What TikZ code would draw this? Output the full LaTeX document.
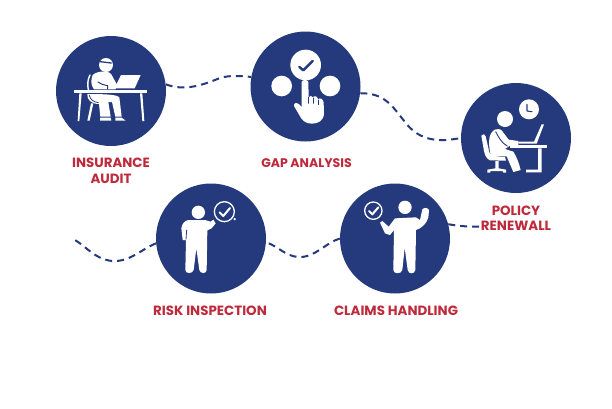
\documentclass[tikz,border=0pt]{standalone}
\usepackage{fontspec}
\setmainfont{Poppins}
\definecolor{navy}{HTML}{243A7C}
\definecolor{crimson}{HTML}{BE2A3C}
\tikzset{
  disc/.style={circle,fill=navy,draw=none,minimum size=110pt,inner sep=0pt},
  lbl/.style={text=crimson,font=\fontsize{13.4pt}{15pt}\selectfont\bfseries,inner sep=0pt,anchor=center},
  lblsmall/.style={lbl,font=\fontsize{12.5pt}{15pt}\selectfont\bfseries},
  wave/.style={draw=navy,line width=2pt,dash pattern=on 7pt off 5pt},
  ico/.style={x=0.33333pt,y=-0.33333pt},
  wf/.style={fill=white,draw=none},
  wl/.style={draw=white,line cap=round,line join=round},
  nl/.style={draw=navy,line cap=round,line join=round},
}
\begin{document}
\begin{tikzpicture}[x=1pt,y=-1pt]
\useasboundingbox (0,0) rectangle (612,408);
\fill[white] (0,0) rectangle (612,408);
\coordinate (freeL) at (75,240);
\coordinate (freeR) at (480,226.5);
% discs
\node[disc] (audit) at (111,91) {};
\node[disc] (gap) at (305.5,86.5) {};
\node[disc] (policy) at (516,138) {};
\node[disc] (risk) at (211,238.5) {};
\node[disc] (claims) at (395,238.5) {};
% connectors
\draw[wave] (audit.7) .. controls (185,92) and (205,84) .. (220,78) .. controls (230,75) and (240,76) .. (gap.170);
\draw[wave] (gap.-7) .. controls (385,93) and (392,106) .. (405,122) .. controls (420,142) and (440,142) .. (policy.west);
\draw[wave] (claims.west) .. controls (325,243) and (315,258) .. (298,257) .. controls (285,256) and (278,246) .. (risk.-4);
\draw[wave] (risk.185) .. controls (140,250) and (130,262) .. (112,261) .. controls (95,259) and (88,248) .. (freeL);
\draw[wave] (claims.15) .. controls (458,226) and (470,227) .. (freeR);
% labels
\node[lbl] (l1a) at (111,163) {INSURANCE};
\node[lbl] (l1b) at (111,179) {AUDIT};
\node[lblsmall] (l2) at (306.5,162.7) {GAP ANALYSIS};
\node[lbl] (l3a) at (516,210.7) {POLICY};
\node[lbl] (l3b) at (516,226.2) {RENEWALL};
\node[lbl] (l4) at (210,311) {RISK INSPECTION};
\node[lbl] (l5) at (396,311) {CLAIMS HANDLING};
% icon 1
\begin{scope}[shift={(40,20)},ico]
\fill[wf] (198,135) circle (21);
\draw[nl,line width=1.3pt] (180,125) -- (214,129);
\draw[wl,line width=1.4pt] (150,165) .. controls (142,180) and (142,195) .. (146,215);
\fill[wf] (158,165) .. controls (170,153) and (205,150) .. (214,163) -- (232,196) -- (226,208) -- (162,208) .. controls (152,195) and (152,180) .. (158,165) -- cycle;
\draw[nl,line width=1pt] (174,186) .. controls (180,192) and (190,194) .. (203,197) -- (203,207);
\fill[wf] (243,165) -- (302,165) -- (284,205) -- (223,205) -- cycle;
\fill[wf] (102,210) -- (322,210) -- (322,220) -- (102,220) -- cycle;
\fill[wf] (118,220) -- (125,220) -- (118,303) -- (113,303) -- cycle;
\fill[wf] (300,220) -- (307,220) -- (313,303) -- (307,303) -- cycle;
\fill[wf] (153,250) -- (160,250) -- (149,302) -- (142,302) -- cycle;
\fill[wf] (142,222) .. controls (140,240) and (155,252) .. (177,252) -- (181,290) -- (212,290) -- (205,246) -- (216,246) -- (226,290) -- (245,290) -- (238,232) .. controls (230,224) and (200,222) .. (142,222) -- cycle;
\draw[nl,line width=0.8pt] (148,226) .. controls (150,238) and (160,246) .. (175,248);
\fill[wf] (180,293) -- (212,293) -- (214,302) -- (180,302) -- cycle;
\fill[wf] (226,293) -- (245,293) -- (257,302) -- (226,302) -- cycle;
\end{scope}
% icon 2
\begin{scope}[shift={(240,20)},ico]
\fill[wf] (197,135) circle (46);
\fill[wf] (125,198) circle (31);
\fill[wf] (270,198) circle (31);
\draw[nl,line width=2.4pt] (178,141) -- (190,151) -- (218,123);
\fill[wf] (185,186) .. controls (186,178) and (204,178) .. (205,186) -- (206,232) .. controls (210,226) and (216,226) .. (218,232) .. controls (224,226) and (232,228) .. (234,238) .. controls (240,232) and (250,236) .. (251,248) -- (252,285) .. controls (248,302) and (235,311) .. (215,311) .. controls (195,311) and (185,300) .. (176,282) -- (162,258) .. controls (160,248) and (172,242) .. (185,262) -- cycle;
\draw[nl,line width=0.8pt] (206,232) -- (206,250);
\draw[nl,line width=0.8pt] (220,234) -- (220,250);
\draw[nl,line width=0.8pt] (235,240) -- (235,254);
\end{scope}
% icon 3
\begin{scope}[shift={(450,75)},ico]
\fill[wf] (237,103) circle (30);
\draw[nl,line width=1.1pt] (231,88) -- (231,108) -- (246,110);
\fill[wf] (165,132) circle (24);
\fill[wf] (94,182) .. controls (98,176) and (106,176) .. (107,184) -- (118,232) .. controls (122,243) and (140,245) .. (165,246) -- (168,257) -- (120,256) .. controls (110,252) and (104,240) .. (102,228) -- cycle;
\fill[wf] (136,258) -- (146,258) -- (146,280) -- (168,284) -- (168,293) -- (160,293) -- (158,288) -- (122,288) -- (120,293) -- (112,293) -- (112,284) -- (136,280) -- cycle;
\fill[wf] (118,190) .. controls (122,165) and (145,152) .. (158,170) -- (176,194) -- (205,198) -- (205,210) -- (178,213) -- (165,222) -- (190,230) .. controls (200,245) and (208,268) .. (212,285) -- (190,291) -- (170,244) -- (125,244) .. controls (118,230) and (116,210) .. (118,190) -- cycle;
\draw[nl,line width=0.9pt] (137,170) .. controls (145,185) and (155,205) .. (172,213);
\fill[wf] (180,210) -- (292,210) -- (292,220) -- (180,220) -- cycle;
\fill[wf] (264,220) -- (275,220) -- (275,292) -- (228,292) -- (228,284) -- (264,284) -- cycle;
\fill[wf] (205,200) -- (252,200) -- (275,148) -- (282,148) -- (260,206) -- (205,206) -- cycle;
\end{scope}
% icon 4
\begin{scope}[shift={(150,175)},ico]
\fill[wf] (145,112) circle (20);
\fill[wf] (115,135) -- (165,135) -- (182,140) -- (190,134) -- (197,145) -- (185,160) -- (172,166) -- (170,285) .. controls (170,297) and (150,297) .. (148,285) -- (139,220) -- (131,285) .. controls (128,297) and (106,297) .. (106,285) -- (108,195) -- (98,195) -- (94,160) .. controls (96,145) and (105,137) .. (115,135) -- cycle;
\draw[nl,line width=0.8pt] (110,165) -- (108,193);
\draw[wl,line width=1.3pt] (223,110) circle (30);
\fill[wf] (254,132) circle (4);
\draw[wl,line width=2pt] (209,112) -- (220,123) -- (240,99);
\end{scope}
% icon 5
\begin{scope}[shift={(330,175)},ico]
\fill[wf] (225,97) circle (20);
\draw[wl,line width=1.3pt] (130,107) circle (26);
\draw[wl,line width=2pt] (117,108) -- (127,118) -- (145,97);
\fill[wf] (150,143) -- (157,138) -- (176,155) -- (195,130) -- (258,127) -- (270,135) -- (277,103) .. controls (282,96) and (296,98) .. (297,106) -- (295,128) .. controls (290,145) and (275,160) .. (258,165) -- (256,285) .. controls (254,298) and (235,298) .. (233,285) -- (224,218) -- (217,285) .. controls (214,298) and (190,298) .. (190,285) -- (192,165) -- (180,180) -- (165,175) -- cycle;
\end{scope}
\end{tikzpicture}
\end{document}
